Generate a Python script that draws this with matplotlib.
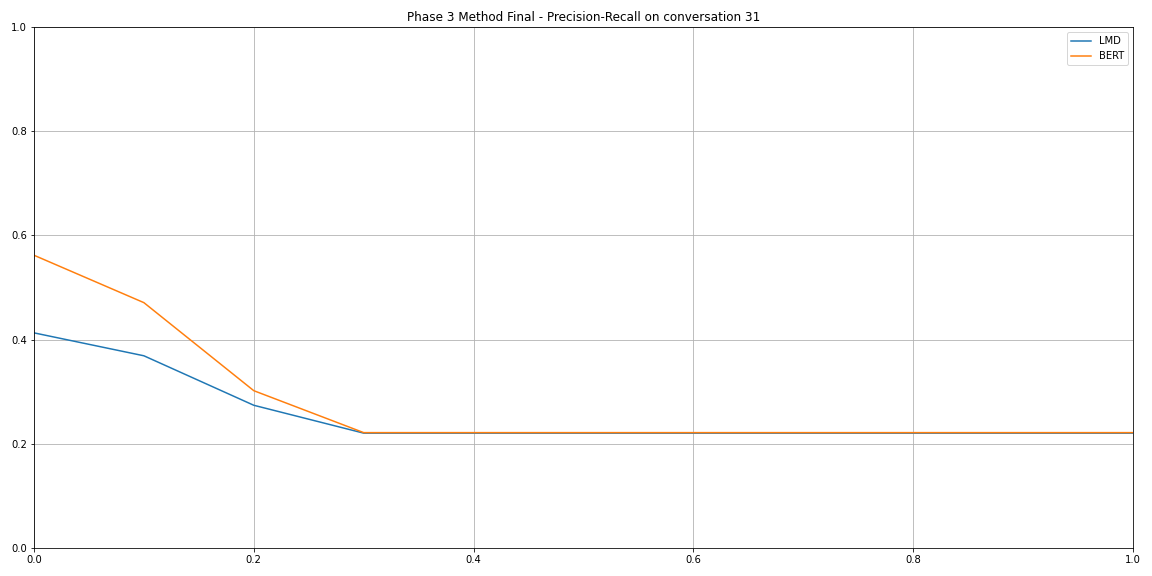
import matplotlib
matplotlib.use('Agg')
import matplotlib.pyplot as plt

# recall levels and interpolated precision per method
recall = [0.0, 0.1, 0.2, 0.3, 0.4, 0.5, 0.6, 0.7, 0.8, 0.9, 1.0]
lmd_precision = [0.413, 0.369, 0.274, 0.2205, 0.2205, 0.2205, 0.2205, 0.2205, 0.2205, 0.2205, 0.2205]
bert_precision = [0.562, 0.471, 0.302, 0.2215, 0.2215, 0.2215, 0.2215, 0.2215, 0.2215, 0.2215, 0.2215]

fig, ax = plt.subplots(figsize=(16, 8), dpi=72)
fig.subplots_adjust(left=0.0295, right=0.9835, top=0.953, bottom=0.0486)

ax.plot(recall, lmd_precision, label='LMD')
ax.plot(recall, bert_precision, label='BERT')

ax.set_xlim(0, 1)
ax.set_ylim(0, 1)
ax.grid(True)
ax.legend(loc='upper right')
ax.set_title('Phase 3 Method Final - Precision-Recall on conversation 31')

plt.savefig('out.png')
